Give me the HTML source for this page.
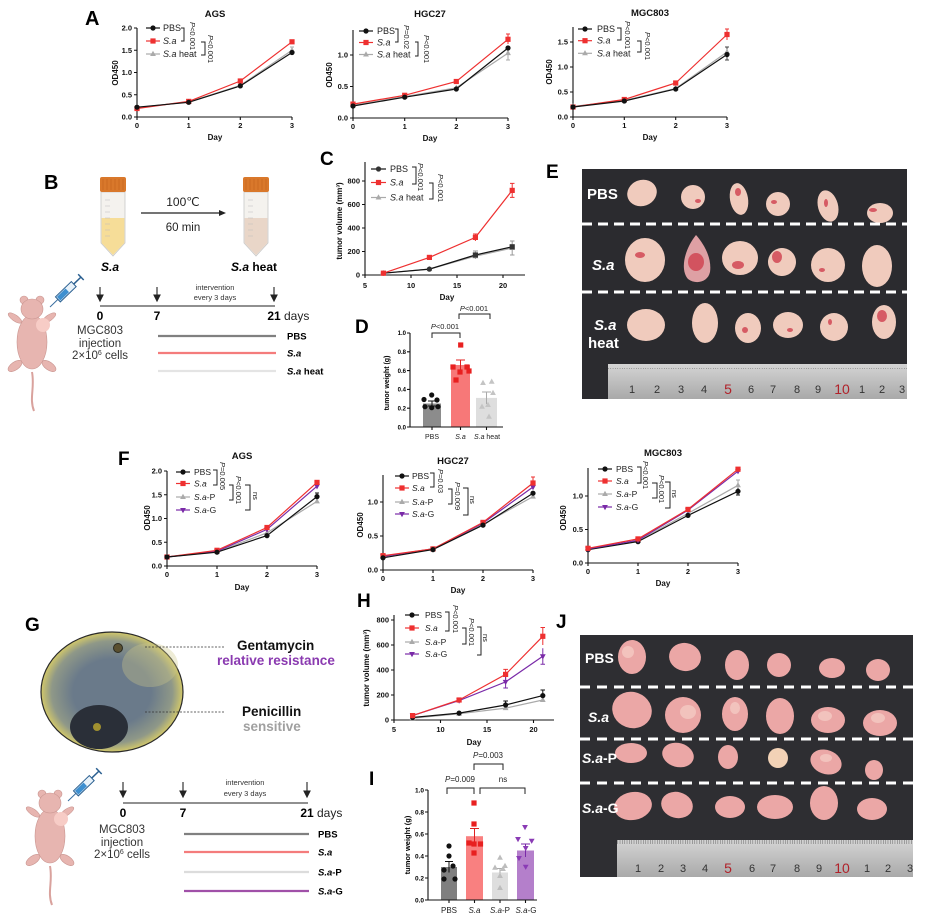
<!DOCTYPE html>
<html><head><meta charset="utf-8"><style>
html,body{margin:0;padding:0;background:#fff;}
svg{display:block;}
text{font-family:"Liberation Sans",Arial,sans-serif;}
.t{font-size:7.5px;font-weight:bold;fill:#111;}
.xl{font-size:8px;font-weight:bold;fill:#111;}
.lg{font-size:9px;fill:#222;}
.lg2{font-size:8.5px;fill:#222;}
.pv{font-size:7.5px;fill:#222;}
.ttl{font-size:9.5px;font-weight:bold;fill:#111;}
.ax{fill:none;stroke:#111;stroke-width:1.1;}
.br{fill:none;stroke:#222;stroke-width:1;}
.pl{font-size:20px;font-weight:bold;fill:#000;}
.s0{fill:none;stroke:#111;stroke-width:1.2;}
.s1{fill:none;stroke:#ee3030;stroke-width:1.2;}
.s2{fill:none;stroke:#aaaaaa;stroke-width:1.2;}
.s3{fill:none;stroke:#7a2aa8;stroke-width:1.2;}
.ph{font-size:15px;font-weight:bold;fill:#fff;}
.rn{font-size:11px;fill:#333;}
.rr{font-size:14px;fill:#b0222a;}
</style></head><body>
<svg width="926" height="920" viewBox="0 0 926 920" xmlns="http://www.w3.org/2000/svg">
<defs>
<circle id="mc" r="2.6"/>
<rect id="ms" x="-2.6" y="-2.6" width="5.2" height="5.2"/>
<path id="mt" d="M0,-3.2L2.9,2L-2.9,2Z"/>
<path id="mv" d="M0,3.2L2.9,-2L-2.9,-2Z"/>
<pattern id="mm" width="2.33" height="8" patternUnits="userSpaceOnUse"><rect width="0.5" height="4" fill="#666"/></pattern>
<linearGradient id="rul" x1="0" y1="0" x2="0" y2="1"><stop offset="0" stop-color="#d4d4d4"/><stop offset="1" stop-color="#a9a9a9"/></linearGradient>
<radialGradient id="pd" cx="0.5" cy="0.5" r="0.5"><stop offset="0.55" stop-color="#6a7a8a"/><stop offset="0.85" stop-color="#8f9888"/><stop offset="1" stop-color="#d2c86a"/></radialGradient>
<g id="mouse">
<path d="M32,372 C35,388 29,398 34,411" fill="none" stroke="#d9a29d" stroke-width="2"/>
<g fill="#e7b5b0" stroke="#c99590" stroke-width="0.6">
<ellipse cx="15" cy="366" rx="8" ry="4" transform="rotate(-35 15 366)"/>
<ellipse cx="49" cy="366" rx="8" ry="4" transform="rotate(35 49 366)"/>
<ellipse cx="15" cy="318" rx="8" ry="3" transform="rotate(35 15 318)"/>
<ellipse cx="49" cy="318" rx="8" ry="3" transform="rotate(-35 49 318)"/>
<ellipse cx="32" cy="342" rx="15" ry="27"/>
<circle cx="24" cy="300" r="4"/><circle cx="40" cy="300" r="4"/>
<ellipse cx="32" cy="309" rx="11" ry="10"/>
</g>
<circle cx="43" cy="325" r="7" fill="#f7ccc6"/>
<g transform="translate(50,307) rotate(-44)">
<line x1="0" y1="0" x2="11" y2="0" stroke="#3a6fa0" stroke-width="1"/>
<rect x="11" y="-3.5" width="22" height="7" fill="#e8f2fa" stroke="#2a5f90" stroke-width="1"/>
<rect x="12" y="-2.5" width="12" height="5" fill="#3d8fd0"/>
<line x1="33" y1="0" x2="43" y2="0" stroke="#2a5f90" stroke-width="1.5"/>
<line x1="43" y1="-4" x2="43" y2="4" stroke="#2a5f90" stroke-width="1.5"/>
</g>
</g>
</defs>

<!-- ================= A ================= -->
<text class="pl" x="85" y="25">A</text>
<text class="ttl" x="215" y="17" text-anchor="middle">AGS</text>
<path class="ax" d="M137,28V117H292M134,28H137M134,50.25H137M134,72.5H137M134,94.75H137M134,117H137M137,117V120M188.7,117V120M240.3,117V120M292,117V120"/>
<g class="t" text-anchor="end"><text x="132" y="30.5">2.0</text><text x="132" y="52.8">1.5</text><text x="132" y="75">1.0</text><text x="132" y="97.3">0.5</text><text x="132" y="119.5">0.0</text></g>
<g class="t" text-anchor="middle"><text x="137" y="128">0</text><text x="188.7" y="128">1</text><text x="240.3" y="128">2</text><text x="292" y="128">3</text></g>
<text class="xl" x="215" y="140" text-anchor="middle">Day</text>
<text class="xl" transform="translate(118,73) rotate(-90)" text-anchor="middle">OD450</text>
<polyline class="s2" points="137,107.7 188.7,101.9 240.3,85.4 292,50.3"/>
<polyline class="s1" points="137,108.5 188.7,101.4 240.3,81 292,41.8"/>
<polyline class="s0" points="137,107.2 188.7,102.3 240.3,85.9 292,52.5"/>
<path d="M292,47V54M290,47H294" stroke="#aaa" fill="none"/>
<g fill="#aaa"><use href="#mt" x="137" y="107.7"/><use href="#mt" x="188.7" y="101.9"/><use href="#mt" x="240.3" y="85.4"/><use href="#mt" x="292" y="50.3"/></g>
<g fill="#ee3030"><use href="#ms" x="137" y="108.5"/><use href="#ms" x="188.7" y="101.4"/><use href="#ms" x="240.3" y="81"/><use href="#ms" x="292" y="41.8"/></g>
<g fill="#111"><use href="#mc" x="137" y="107.2"/><use href="#mc" x="188.7" y="102.3"/><use href="#mc" x="240.3" y="85.9"/><use href="#mc" x="292" y="52.5"/></g>
<line x1="146" y1="28" x2="160" y2="28" class="s0"/><use href="#mc" x="153" y="28" fill="#111"/>
<line x1="146" y1="41" x2="160" y2="41" class="s1"/><use href="#ms" x="153" y="41" fill="#ee3030"/>
<line x1="146" y1="54" x2="160" y2="54" class="s2"/><use href="#mt" x="153" y="54" fill="#aaa"/>
<text class="lg" x="163" y="31">PBS</text><text class="lg" x="163" y="44" font-style="italic">S.a</text><text class="lg" x="163" y="57"><tspan font-style="italic">S.a</tspan> heat</text>
<path class="br" d="M181,28H184V41H181M201,42H205V55H201"/>
<text class="pv" transform="translate(190,22) rotate(90)"><tspan font-style="italic">P</tspan>&lt;0.001</text>
<text class="pv" transform="translate(208,35) rotate(90)"><tspan font-style="italic">P</tspan>&lt;0.001</text>

<!-- HGC27 -->
<text class="ttl" x="430" y="17" text-anchor="middle">HGC27</text>
<path class="ax" d="M353,30V118H508M350,55H353M350,86.5H353M350,118H353M353,118V121M404.7,118V121M456.3,118V121M508,118V121"/>
<g class="t" text-anchor="end"><text x="348" y="57.5">1.0</text><text x="348" y="89">0.5</text><text x="348" y="120.5">0.0</text></g>
<g class="t" text-anchor="middle"><text x="353" y="129">0</text><text x="404.7" y="129">1</text><text x="456.3" y="129">2</text><text x="508" y="129">3</text></g>
<text class="xl" x="430" y="141" text-anchor="middle">Day</text>
<text class="xl" transform="translate(332,75) rotate(-90)" text-anchor="middle">OD450</text>
<polyline class="s2" points="353,105.4 404.7,96.6 456.3,87.8 508,53.1"/>
<polyline class="s1" points="353,104.1 404.7,95.3 456.3,81.5 508,39.3"/>
<polyline class="s0" points="353,106 404.7,97.2 456.3,89 508,48"/>
<path d="M508,47V60M506,47H510M506,60H510" stroke="#aaa" fill="none"/>
<path d="M508,34V44M506,34H510" stroke="#ee3030" fill="none"/>
<g fill="#aaa"><use href="#mt" x="353" y="105.4"/><use href="#mt" x="404.7" y="96.6"/><use href="#mt" x="456.3" y="87.8"/><use href="#mt" x="508" y="53.1"/></g>
<g fill="#ee3030"><use href="#ms" x="353" y="104.1"/><use href="#ms" x="404.7" y="95.3"/><use href="#ms" x="456.3" y="81.5"/><use href="#ms" x="508" y="39.3"/></g>
<g fill="#111"><use href="#mc" x="353" y="106"/><use href="#mc" x="404.7" y="97.2"/><use href="#mc" x="456.3" y="89"/><use href="#mc" x="508" y="48"/></g>
<line x1="359" y1="31" x2="373" y2="31" class="s0"/><use href="#mc" x="366" y="31" fill="#111"/>
<line x1="359" y1="42.5" x2="373" y2="42.5" class="s1"/><use href="#ms" x="366" y="42.5" fill="#ee3030"/>
<line x1="359" y1="54.5" x2="373" y2="54.5" class="s2"/><use href="#mt" x="366" y="54.5" fill="#aaa"/>
<text class="lg" x="377" y="34">PBS</text><text class="lg" x="377" y="45.5" font-style="italic">S.a</text><text class="lg" x="377" y="57.5"><tspan font-style="italic">S.a</tspan> heat</text>
<path class="br" d="M395,29H398V42H395M415,42H418V56H415"/>
<text class="pv" transform="translate(404,25) rotate(90)"><tspan font-style="italic">P</tspan>=0.02</text>
<text class="pv" transform="translate(424,35) rotate(90)"><tspan font-style="italic">P</tspan>&lt;0.001</text>

<!-- MGC803 -->
<text class="ttl" x="650" y="16" text-anchor="middle">MGC803</text>
<path class="ax" d="M573,27V117H727M570,42H573M570,67H573M570,92H573M570,117H573M573,117V120M624.3,117V120M675.7,117V120M727,117V120"/>
<g class="t" text-anchor="end"><text x="568" y="44.5">1.5</text><text x="568" y="69.5">1.0</text><text x="568" y="94.5">0.5</text><text x="568" y="119.5">0.0</text></g>
<g class="t" text-anchor="middle"><text x="573" y="128">0</text><text x="624.3" y="128">1</text><text x="675.7" y="128">2</text><text x="727" y="128">3</text></g>
<text class="xl" x="650" y="140" text-anchor="middle">Day</text>
<text class="xl" transform="translate(552,72) rotate(-90)" text-anchor="middle">OD450</text>
<polyline class="s2" points="573,106.5 624.3,100.5 675.7,88.5 727,52"/>
<polyline class="s1" points="573,107 624.3,99.5 675.7,83 727,34.5"/>
<polyline class="s0" points="573,107 624.3,101 675.7,89 727,54.5"/>
<path d="M727,29V40M725,29H729" stroke="#ee3030" fill="none"/>
<path d="M727,47V58M725,47H729M727,50V60M725,60H729" stroke="#444" fill="none"/>
<g fill="#aaa"><use href="#mt" x="573" y="106.5"/><use href="#mt" x="624.3" y="100.5"/><use href="#mt" x="675.7" y="88.5"/><use href="#mt" x="727" y="52"/></g>
<g fill="#ee3030"><use href="#ms" x="573" y="107"/><use href="#ms" x="624.3" y="99.5"/><use href="#ms" x="675.7" y="83"/><use href="#ms" x="727" y="34.5"/></g>
<g fill="#111"><use href="#mc" x="573" y="107"/><use href="#mc" x="624.3" y="101"/><use href="#mc" x="675.7" y="89"/><use href="#mc" x="727" y="54.5"/></g>
<line x1="578" y1="29" x2="592" y2="29" class="s0"/><use href="#mc" x="585" y="29" fill="#111"/>
<line x1="578" y1="40.7" x2="592" y2="40.7" class="s1"/><use href="#ms" x="585" y="40.7" fill="#ee3030"/>
<line x1="578" y1="53.3" x2="592" y2="53.3" class="s2"/><use href="#mt" x="585" y="53.3" fill="#aaa"/>
<text class="lg" x="597" y="32">PBS</text><text class="lg" x="597" y="43.7" font-style="italic">S.a</text><text class="lg" x="597" y="56.3"><tspan font-style="italic">S.a</tspan> heat</text>
<path class="br" d="M617,28H621V40H617M637,41H641V52H637"/>
<text class="pv" transform="translate(625,21) rotate(90)"><tspan font-style="italic">P</tspan>&lt;0.001</text>
<text class="pv" transform="translate(645,32) rotate(90)"><tspan font-style="italic">P</tspan>&lt;0.001</text>

<!-- ================= B ================= -->
<text class="pl" x="44" y="189">B</text>
<path d="M101,192H125V243L113,256L101,243Z" fill="#f4f2ee" stroke="#c8c8c8" stroke-width="0.8"/>
<path d="M101.6,218H124.4V243L113,255L101.6,243Z" fill="#f6dd98"/>
<path d="M105,200H110M105,206H110M105,212H110M105,218H110M105,224H110M105,230H110M105,236H110" stroke="#bbb" stroke-width="0.6"/>
<rect x="100" y="177" width="26" height="15" rx="2" fill="#d9782b"/>
<path d="M103,179V190M107,179V190M111,179V190M115,179V190M119,179V190M123,179V190" stroke="#c2621c" stroke-width="0.6"/>
<path d="M244,192H268V243L256,256L244,243Z" fill="#f4f2ee" stroke="#c8c8c8" stroke-width="0.8"/>
<path d="M244.6,218H267.4V243L256,255L244.6,243Z" fill="#e9d6c8"/>
<path d="M248,200H253M248,206H253M248,212H253M248,218H253M248,224H253M248,230H253M248,236H253" stroke="#bbb" stroke-width="0.6"/>
<rect x="243" y="177" width="26" height="15" rx="2" fill="#d9782b"/>
<path d="M246,179V190M250,179V190M254,179V190M258,179V190M262,179V190M266,179V190" stroke="#c2621c" stroke-width="0.6"/>
<line x1="141" y1="213" x2="221" y2="213" stroke="#222" stroke-width="1.2"/><path d="M226,213L219,210V216Z" fill="#222"/>
<text x="183" y="206" font-size="12" text-anchor="middle" fill="#222">100℃</text>
<text x="183" y="231" font-size="11.5" text-anchor="middle" fill="#222">60 min</text>
<text x="110" y="271" font-size="12" font-weight="bold" font-style="italic" text-anchor="middle">S.a</text>
<text x="254" y="271" font-size="12" font-weight="bold" text-anchor="middle"><tspan font-style="italic">S.a</tspan> heat</text>
<use href="#mouse"/>
<g stroke="#222" stroke-width="1.1" fill="#222">
<line x1="100" y1="287" x2="100" y2="297"/><path d="M100,301L97,295H103Z"/>
<line x1="157" y1="287" x2="157" y2="297"/><path d="M157,301L154,295H160Z"/>
<line x1="274" y1="287" x2="274" y2="297"/><path d="M274,301L271,295H277Z"/>
<line x1="100" y1="306" x2="275" y2="306"/>
</g>
<text x="215" y="290" font-size="7.5" text-anchor="middle" fill="#333">intervention</text>
<text x="215" y="300" font-size="7.5" text-anchor="middle" fill="#333">every 3 days</text>
<g font-size="12" font-weight="bold" text-anchor="middle"><text x="100" y="320">0</text><text x="157" y="320">7</text><text x="274" y="320">21</text></g>
<text x="284" y="320" font-size="12" fill="#222">days</text>
<g font-size="11.5" text-anchor="middle" fill="#333"><text x="100" y="334">MGC803</text><text x="100" y="347">injection</text><text x="100" y="359">2×10<tspan font-size="7" dy="-4">6</tspan><tspan dy="4"> cells</tspan></text></g>
<line x1="158" y1="336" x2="276" y2="336" stroke="#808080" stroke-width="2.2"/>
<line x1="158" y1="353" x2="276" y2="353" stroke="#f47c7c" stroke-width="2.2"/>
<line x1="158" y1="371" x2="276" y2="371" stroke="#e4e4e4" stroke-width="2.2"/>
<g font-size="9.5" font-weight="bold"><text x="287" y="339.5">PBS</text><text x="287" y="356.5" font-style="italic">S.a</text><text x="287" y="374.5"><tspan font-style="italic">S.a</tspan> heat</text></g>

<!-- ================= C ================= -->
<text class="pl" x="320" y="165" style="font-size:19px">C</text>
<path class="ax" d="M365,162V275H525M362,181H365M362,204.5H365M362,228H365M362,251.5H365M362,275H365M365,275V278M411,275V278M457,275V278M503,275V278"/>
<g class="t" text-anchor="end"><text x="360" y="183.5">800</text><text x="360" y="207">600</text><text x="360" y="230.5">400</text><text x="360" y="254">200</text><text x="360" y="277.5">0</text></g>
<g class="t" text-anchor="middle"><text x="365" y="288">5</text><text x="411" y="288">10</text><text x="457" y="288">15</text><text x="503" y="288">20</text></g>
<text class="xl" x="447" y="300" text-anchor="middle">Day</text>
<text class="xl" transform="translate(342,221) rotate(-90)" text-anchor="middle">tumor volume (mm³)</text>
<polyline class="s2" points="383.4,273.2 429.4,269.1 475.4,256.2 512.2,248"/>
<polyline class="s0" points="383.4,273.2 429.4,269.1 475.4,255 512.2,246.8"/>
<polyline class="s1" points="383.4,273.2 429.4,257.4 475.4,237.4 512.2,190.4"/>
<path d="M512.2,183.4V197.4M510,183.4H514.5M510,197.4H514.5M475.4,234V241M473,234H478" stroke="#ee3030" fill="none"/>
<path d="M512.2,241V255M510,241H514.5M510,255H514.5M475.4,251V259M473,251H478" stroke="#999" fill="none"/>
<g fill="#aaa"><use href="#mt" x="383.4" y="273.2"/><use href="#mt" x="429.4" y="269.1"/><use href="#mt" x="475.4" y="256.2"/><use href="#mt" x="512.2" y="248"/></g>
<g fill="#333"><use href="#mc" x="383.4" y="273.2"/><use href="#mc" x="429.4" y="269.1"/><use href="#ms" x="475.4" y="255"/><use href="#ms" x="512.2" y="246.8"/></g>
<g fill="#ee3030"><use href="#ms" x="383.4" y="273.2"/><use href="#ms" x="429.4" y="257.4"/><use href="#ms" x="475.4" y="237.4"/><use href="#ms" x="512.2" y="190.4"/></g>
<line x1="371" y1="169" x2="386" y2="169" class="s0"/><use href="#mc" x="378.5" y="169" fill="#333"/>
<line x1="371" y1="182.5" x2="386" y2="182.5" class="s1"/><use href="#ms" x="378.5" y="182.5" fill="#ee3030"/>
<line x1="371" y1="197.5" x2="386" y2="197.5" class="s2"/><use href="#mt" x="378.5" y="197.5" fill="#aaa"/>
<text class="lg" x="390" y="172">PBS</text><text class="lg" x="390" y="185.5" font-style="italic">S.a</text><text class="lg" x="390" y="200.5"><tspan font-style="italic">S.a</tspan> heat</text>
<path class="br" d="M412,167H416V184H412M429,183H433V199H429"/>
<text class="pv" transform="translate(418,163) rotate(90)"><tspan font-style="italic">P</tspan>&lt;0.001</text>
<text class="pv" transform="translate(438,174) rotate(90)"><tspan font-style="italic">P</tspan>&lt;0.001</text>

<!-- ================= D ================= -->
<text class="pl" x="355" y="333" style="font-size:19px">D</text>
<rect x="423" y="403.5" width="18" height="23.5" fill="#8c8c8c"/>
<rect x="451" y="365" width="19" height="62" fill="#f77878"/>
<rect x="476" y="397.9" width="21" height="29.1" fill="#dedede"/>
<path class="ax" d="M410,333V427H503M407,333H410M407,351.8H410M407,370.6H410M407,389.4H410M407,408.2H410M407,427H410M432,427V430M460.5,427V430M486.5,427V430"/>
<g style="font-size:6px;font-weight:bold" text-anchor="end"><text x="406" y="335">1.0</text><text x="406" y="354">0.8</text><text x="406" y="373">0.6</text><text x="406" y="391.5">0.4</text><text x="406" y="410.5">0.2</text><text x="406" y="429.3">0.0</text></g>
<text transform="translate(389,383) rotate(-90)" text-anchor="middle" style="font-size:7px;font-weight:bold">tumor weight (g)</text>
<g font-size="7" text-anchor="middle" fill="#222"><text x="432" y="439">PBS</text><text x="460.5" y="439" font-style="italic">S.a</text><text x="487" y="439"><tspan font-style="italic">S.a</tspan> heat</text></g>
<path d="M432,401V406M428,401H436M428,406H436" stroke="#111" fill="none"/>
<path d="M460.5,360V370M456,360H465" stroke="#e02020" fill="none"/>
<path d="M486.5,392V404M482,392H491" stroke="#aaa" fill="none"/>
<g fill="#111"><use href="#mc" x="431.7" y="395"/><use href="#mc" x="424" y="399.5"/><use href="#mc" x="437" y="400"/><use href="#mc" x="425" y="406.7"/><use href="#mc" x="431.7" y="407.7"/><use href="#mc" x="438" y="406.7"/></g>
<g fill="#e82020"><use href="#ms" x="460.7" y="345"/><use href="#ms" x="453" y="367"/><use href="#ms" x="467" y="367"/><use href="#ms" x="460" y="372"/><use href="#ms" x="469" y="371"/><use href="#ms" x="456" y="380"/></g>
<g fill="#c4c4c4"><use href="#mt" x="491.7" y="381.7"/><use href="#mt" x="483" y="383"/><use href="#mt" x="493" y="393"/><use href="#mt" x="488" y="405"/><use href="#mt" x="482" y="406.7"/><use href="#mt" x="489" y="416.7"/></g>
<g font-size="7.5" text-anchor="middle" fill="#222"><text x="445" y="329"><tspan font-style="italic">P</tspan>&lt;0.001</text><text x="474" y="311"><tspan font-style="italic">P</tspan>&lt;0.001</text></g>
<path class="br" d="M432,338V333H460V338M459,319V314H490V319"/>

<!-- ================= E ================= -->
<text class="pl" x="546" y="178" style="font-size:19px">E</text>
<rect x="582" y="169" width="325" height="230" fill="#2b2b2f"/>
<g fill="#f0cbbd">
<ellipse cx="642" cy="193" rx="15" ry="13" transform="rotate(-20 642 193)"/>
<ellipse cx="693" cy="197" rx="12" ry="12"/>
<ellipse cx="739" cy="199" rx="9" ry="16" transform="rotate(-10 739 199)"/>
<ellipse cx="778" cy="204" rx="12" ry="12"/>
<ellipse cx="828" cy="206" rx="10" ry="16" transform="rotate(-15 828 206)"/>
<ellipse cx="880" cy="213" rx="13" ry="10"/>
<ellipse cx="645" cy="260" rx="20" ry="22"/>
<path d="M696,235 C684,250 680,270 688,279 C696,285 708,282 710,272 C712,258 704,244 696,235Z" fill="#dea0a4"/>
<ellipse cx="740" cy="258" rx="18" ry="17"/>
<ellipse cx="782" cy="262" rx="14" ry="14" transform="rotate(30 782 262)"/>
<ellipse cx="828" cy="265" rx="17" ry="17"/>
<ellipse cx="877" cy="266" rx="15" ry="21"/>
<ellipse cx="646" cy="325" rx="19" ry="16"/>
<ellipse cx="705" cy="323" rx="13" ry="20"/>
<ellipse cx="748" cy="328" rx="13" ry="15"/>
<ellipse cx="788" cy="325" rx="15" ry="13"/>
<ellipse cx="834" cy="327" rx="14" ry="14"/>
<ellipse cx="884" cy="322" rx="12" ry="17"/>
</g>
<g fill="#d0404e" opacity="0.8">
<ellipse cx="698" cy="201" rx="3" ry="2"/><ellipse cx="738" cy="192" rx="3" ry="4"/><ellipse cx="774" cy="202" rx="3" ry="2"/><ellipse cx="826" cy="203" rx="2" ry="4"/><ellipse cx="873" cy="210" rx="4" ry="2"/>
<ellipse cx="640" cy="255" rx="5" ry="3"/><ellipse cx="696" cy="262" rx="8" ry="9"/><ellipse cx="738" cy="265" rx="6" ry="4"/><ellipse cx="777" cy="257" rx="5" ry="6"/><ellipse cx="822" cy="270" rx="3" ry="2"/>
<ellipse cx="745" cy="330" rx="3" ry="3"/><ellipse cx="790" cy="330" rx="3" ry="2"/><ellipse cx="882" cy="316" rx="5" ry="6"/><ellipse cx="830" cy="322" rx="2" ry="3"/>
</g>
<g stroke="#fff" stroke-width="3" stroke-dasharray="10 6"><line x1="582" y1="224" x2="907" y2="224"/><line x1="582" y1="292" x2="907" y2="292"/></g>
<text class="ph" x="587" y="199">PBS</text>
<text class="ph" x="592" y="270" font-style="italic">S.a</text>
<text class="ph" x="594" y="330" font-style="italic">S.a</text>
<text class="ph" x="588" y="348">heat</text>
<rect x="608" y="364" width="299" height="35" fill="url(#rul)"/>
<rect x="608" y="364" width="299" height="5" fill="url(#mm)"/>
<g class="rn" text-anchor="middle"><text x="632" y="393">1</text><text x="657" y="393">2</text><text x="681" y="393">3</text><text x="704" y="393">4</text><text x="751" y="393">6</text><text x="773" y="393">7</text><text x="797" y="393">8</text><text x="818" y="393">9</text><text x="862" y="393">1</text><text x="882" y="393">2</text><text x="902" y="393">3</text></g>
<g class="rr" text-anchor="middle"><text x="728" y="394">5</text><text x="842" y="394">10</text></g>

<!-- ================= F ================= -->
<text class="pl" x="118" y="465" style="font-size:19px">F</text>
<text class="ttl" x="242" y="459" text-anchor="middle">AGS</text>
<path class="ax" d="M167,471V566H317M164,471H167M164,494.75H167M164,518.5H167M164,542.25H167M164,566H167M167,566V569M217,566V569M267,566V569M317,566V569"/>
<g class="t" text-anchor="end"><text x="162" y="473.5">2.0</text><text x="162" y="497.3">1.5</text><text x="162" y="521">1.0</text><text x="162" y="544.8">0.5</text><text x="162" y="568.5">0.0</text></g>
<g class="t" text-anchor="middle"><text x="167" y="577">0</text><text x="217" y="577">1</text><text x="267" y="577">2</text><text x="317" y="577">3</text></g>
<text class="xl" x="242" y="590" text-anchor="middle">Day</text>
<text class="xl" transform="translate(150,518) rotate(-90)" text-anchor="middle">OD450</text>
<polyline class="s2" points="167,557 217,551.8 267,532.8 317,501.4"/>
<polyline class="s3" points="167,557 217,551.3 267,529.4 317,486.2"/>
<polyline class="s1" points="167,557 217,550.3 267,527.5 317,482.4"/>
<polyline class="s0" points="167,557 217,552.2 267,535.6 317,496.6"/>
<path d="M317,493V500M315,493H319" stroke="#111" fill="none"/>
<g fill="#aaa"><use href="#mt" x="167" y="557"/><use href="#mt" x="217" y="551.8"/><use href="#mt" x="267" y="532.8"/><use href="#mt" x="317" y="501.4"/></g>
<g fill="#7a2aa8"><use href="#mv" x="167" y="557"/><use href="#mv" x="217" y="551.3"/><use href="#mv" x="267" y="529.4"/><use href="#mv" x="317" y="486.2"/></g>
<g fill="#ee3030"><use href="#ms" x="167" y="557"/><use href="#ms" x="217" y="550.3"/><use href="#ms" x="267" y="527.5"/><use href="#ms" x="317" y="482.4"/></g>
<g fill="#111"><use href="#mc" x="167" y="557"/><use href="#mc" x="217" y="552.2"/><use href="#mc" x="267" y="535.6"/><use href="#mc" x="317" y="496.6"/></g>
<line x1="176" y1="472" x2="190" y2="472" class="s0"/><use href="#mc" x="183" y="472" fill="#111"/>
<line x1="176" y1="483.5" x2="190" y2="483.5" class="s1"/><use href="#ms" x="183" y="483.5" fill="#ee3030"/>
<line x1="176" y1="497" x2="190" y2="497" class="s2"/><use href="#mt" x="183" y="497" fill="#aaa"/>
<line x1="176" y1="510" x2="190" y2="510" class="s3"/><use href="#mv" x="183" y="510" fill="#7a2aa8"/>
<text class="lg2" x="194" y="475">PBS</text><text class="lg2" x="194" y="486.5" font-style="italic">S.a</text><text class="lg2" x="194" y="500"><tspan font-style="italic">S.a</tspan>-P</text><text class="lg2" x="194" y="513"><tspan font-style="italic">S.a</tspan>-G</text>
<path class="br" d="M213,470H217V485H213M229,485H233V500H229M245,485H250V510H245"/>
<text class="pv" transform="translate(220,462) rotate(90)"><tspan font-style="italic">P</tspan>=0.005</text>
<text class="pv" transform="translate(236,476) rotate(90)"><tspan font-style="italic">P</tspan>&lt;0.001</text>
<text class="pv" transform="translate(253,492) rotate(90)">ns</text>

<text class="ttl" x="453" y="464" text-anchor="middle">HGC27</text>
<path class="ax" d="M383,475V570H533M380,502H383M380,536H383M380,570H383M383,570V573M433,570V573M483,570V573M533,570V573"/>
<g class="t" text-anchor="end"><text x="378" y="504.5">1.0</text><text x="378" y="538.5">0.5</text><text x="378" y="572.5">0.0</text></g>
<g class="t" text-anchor="middle"><text x="383" y="581">0</text><text x="433" y="581">1</text><text x="483" y="581">2</text><text x="533" y="581">3</text></g>
<text class="xl" x="458" y="593" text-anchor="middle">Day</text>
<text class="xl" transform="translate(363,525) rotate(-90)" text-anchor="middle">OD450</text>
<polyline class="s2" points="383,556.4 433,548.9 483,524.4 533,496.6"/>
<polyline class="s3" points="383,556.4 433,548.9 483,523.1 533,487"/>
<polyline class="s1" points="383,555.7 433,548.9 483,522.4 533,483"/>
<polyline class="s0" points="383,557.8 433,549.6 483,525.1 533,493.2"/>
<path d="M533,477V489M531,477H535" stroke="#ee3030" fill="none"/>
<g fill="#aaa"><use href="#mt" x="383" y="556.4"/><use href="#mt" x="433" y="548.9"/><use href="#mt" x="483" y="524.4"/><use href="#mt" x="533" y="496.6"/></g>
<g fill="#7a2aa8"><use href="#mv" x="383" y="556.4"/><use href="#mv" x="433" y="548.9"/><use href="#mv" x="483" y="523.1"/><use href="#mv" x="533" y="487"/></g>
<g fill="#ee3030"><use href="#ms" x="383" y="555.7"/><use href="#ms" x="433" y="548.9"/><use href="#ms" x="483" y="522.4"/><use href="#ms" x="533" y="483"/></g>
<g fill="#111"><use href="#mc" x="383" y="557.8"/><use href="#mc" x="433" y="549.6"/><use href="#mc" x="483" y="525.1"/><use href="#mc" x="533" y="493.2"/></g>
<line x1="395" y1="476" x2="409" y2="476" class="s0"/><use href="#mc" x="402" y="476" fill="#111"/>
<line x1="395" y1="488" x2="409" y2="488" class="s1"/><use href="#ms" x="402" y="488" fill="#ee3030"/>
<line x1="395" y1="502" x2="409" y2="502" class="s2"/><use href="#mt" x="402" y="502" fill="#aaa"/>
<line x1="395" y1="514" x2="409" y2="514" class="s3"/><use href="#mv" x="402" y="514" fill="#7a2aa8"/>
<text class="lg2" x="412" y="479">PBS</text><text class="lg2" x="412" y="491" font-style="italic">S.a</text><text class="lg2" x="412" y="505"><tspan font-style="italic">S.a</tspan>-P</text><text class="lg2" x="412" y="517"><tspan font-style="italic">S.a</tspan>-G</text>
<path class="br" d="M430,473H434V487H430M448,489H452V504H448M463,488H468V515H463"/>
<text class="pv" transform="translate(438,469) rotate(90)"><tspan font-style="italic">P</tspan>=0.03</text>
<text class="pv" transform="translate(455,482) rotate(90)"><tspan font-style="italic">P</tspan>=0.009</text>
<text class="pv" transform="translate(470,496) rotate(90)">ns</text>

<text class="ttl" x="663" y="456" text-anchor="middle">MGC803</text>
<path class="ax" d="M588,468V563H738M585,496H588M585,529.5H588M585,563H588M588,563V566M638,563V566M688,563V566M738,563V566"/>
<g class="t" text-anchor="end"><text x="583" y="498.5">1.0</text><text x="583" y="532">0.5</text><text x="583" y="565.5">0.0</text></g>
<g class="t" text-anchor="middle"><text x="588" y="574">0</text><text x="638" y="574">1</text><text x="688" y="574">2</text><text x="738" y="574">3</text></g>
<text class="xl" x="663" y="586" text-anchor="middle">Day</text>
<text class="xl" transform="translate(566,518) rotate(-90)" text-anchor="middle">OD450</text>
<polyline class="s2" points="588,548.9 638,540.9 688,513.4 738,485.3"/>
<polyline class="s0" points="588,549.6 638,541.6 688,515.4 738,491.3"/>
<polyline class="s3" points="588,548.9 638,540.2 688,510.1 738,471.2"/>
<polyline class="s1" points="588,548.3 638,538.9 688,509.4 738,469.2"/>
<path d="M738,480V490M736,480H740" stroke="#aaa" fill="none"/>
<path d="M738,488V495M736,495H740" stroke="#111" fill="none"/>
<g fill="#aaa"><use href="#mt" x="588" y="548.9"/><use href="#mt" x="638" y="540.9"/><use href="#mt" x="688" y="513.4"/><use href="#mt" x="738" y="485.3"/></g>
<g fill="#111"><use href="#mc" x="588" y="549.6"/><use href="#mc" x="638" y="541.6"/><use href="#mc" x="688" y="515.4"/><use href="#mc" x="738" y="491.3"/></g>
<g fill="#7a2aa8"><use href="#mv" x="588" y="548.9"/><use href="#mv" x="638" y="540.2"/><use href="#mv" x="688" y="510.1"/><use href="#mv" x="738" y="471.2"/></g>
<g fill="#ee3030"><use href="#ms" x="588" y="548.3"/><use href="#ms" x="638" y="538.9"/><use href="#ms" x="688" y="509.4"/><use href="#ms" x="738" y="469.2"/></g>
<line x1="598" y1="469" x2="612" y2="469" class="s0"/><use href="#mc" x="605" y="469" fill="#111"/>
<line x1="598" y1="481" x2="612" y2="481" class="s1"/><use href="#ms" x="605" y="481" fill="#ee3030"/>
<line x1="598" y1="494" x2="612" y2="494" class="s2"/><use href="#mt" x="605" y="494" fill="#aaa"/>
<line x1="598" y1="507" x2="612" y2="507" class="s3"/><use href="#mv" x="605" y="507" fill="#7a2aa8"/>
<text class="lg2" x="616" y="472">PBS</text><text class="lg2" x="616" y="484" font-style="italic">S.a</text><text class="lg2" x="616" y="497"><tspan font-style="italic">S.a</tspan>-P</text><text class="lg2" x="616" y="510"><tspan font-style="italic">S.a</tspan>-G</text>
<path class="br" d="M637,467H641V483H637M652,483H657V498H652M665,482H670V508H665"/>
<text class="pv" transform="translate(643,461) rotate(90)"><tspan font-style="italic">P</tspan>&lt;0.001</text>
<text class="pv" transform="translate(659,475) rotate(90)"><tspan font-style="italic">P</tspan>&lt;0.001</text>
<text class="pv" transform="translate(672,490) rotate(90)">ns</text>

<!-- ================= G ================= -->
<text class="pl" x="25" y="631" style="font-size:19px">G</text>
<ellipse cx="112" cy="692" rx="71" ry="60" fill="url(#pd)" stroke="#2a2a2a" stroke-width="1.2"/>
<ellipse cx="150" cy="665" rx="28" ry="22" fill="#cfc88a" opacity="0.35"/>
<ellipse cx="99" cy="727" rx="29" ry="22" fill="#2a2f38"/>
<circle cx="118" cy="648" r="4.5" fill="#5a5030" stroke="#2a2a20" stroke-width="1"/>
<circle cx="97" cy="727" r="4" fill="#a09030"/>
<g stroke="#333" stroke-width="0.8" stroke-dasharray="2 1.5"><line x1="145" y1="647" x2="225" y2="647"/><line x1="145" y1="712" x2="225" y2="712"/></g>
<g font-size="13.5" font-weight="bold">
<text x="237" y="650" fill="#111">Gentamycin</text>
<text x="217" y="665" fill="#8a3ab0">relative resistance</text>
<text x="242" y="716" fill="#111">Penicillin</text>
<text x="243" y="731" fill="#a0a0a0">sensitive</text>
</g>
<use href="#mouse" x="18" y="494"/>
<g stroke="#222" stroke-width="1.1" fill="#222">
<line x1="123" y1="782" x2="123" y2="793"/><path d="M123,797L120,791H126Z"/>
<line x1="183" y1="782" x2="183" y2="793"/><path d="M183,797L180,791H186Z"/>
<line x1="307" y1="782" x2="307" y2="793"/><path d="M307,797L304,791H310Z"/>
<line x1="123" y1="803" x2="308" y2="803"/>
</g>
<text x="245" y="785" font-size="7.5" text-anchor="middle" fill="#333">intervention</text>
<text x="245" y="796" font-size="7.5" text-anchor="middle" fill="#333">every 3 days</text>
<g font-size="12" font-weight="bold" text-anchor="middle"><text x="123" y="817">0</text><text x="183" y="817">7</text><text x="307" y="817">21</text></g>
<text x="317" y="817" font-size="12" fill="#222">days</text>
<g font-size="11.5" text-anchor="middle" fill="#333"><text x="122" y="833">MGC803</text><text x="122" y="846">injection</text><text x="122" y="858">2×10<tspan font-size="7" dy="-4">6</tspan><tspan dy="4"> cells</tspan></text></g>
<line x1="184" y1="834" x2="309" y2="834" stroke="#808080" stroke-width="2.2"/>
<line x1="184" y1="852" x2="309" y2="852" stroke="#f47c7c" stroke-width="2.2"/>
<line x1="184" y1="872" x2="309" y2="872" stroke="#dcdcdc" stroke-width="2.2"/>
<line x1="184" y1="891" x2="309" y2="891" stroke="#a050a8" stroke-width="2.2"/>
<g font-size="9.5" font-weight="bold"><text x="318" y="837.5">PBS</text><text x="318" y="855.5" font-style="italic">S.a</text><text x="318" y="875.5"><tspan font-style="italic">S.a</tspan>-P</text><text x="318" y="894.5"><tspan font-style="italic">S.a</tspan>-G</text></g>

<!-- ================= H ================= -->
<text class="pl" x="357" y="607" style="font-size:19px">H</text>
<path class="ax" d="M394,615V720H554M391,620H394M391,645H394M391,670H394M391,695H394M391,720H394M394,720V723M440.5,720V723M487,720V723M533.5,720V723"/>
<g class="t" text-anchor="end"><text x="389" y="622.5">800</text><text x="389" y="647.5">600</text><text x="389" y="672.5">400</text><text x="389" y="697.5">200</text><text x="389" y="722.5">0</text></g>
<g class="t" text-anchor="middle"><text x="394" y="732">5</text><text x="440.5" y="732">10</text><text x="487" y="732">15</text><text x="533.5" y="732">20</text></g>
<text class="xl" x="474" y="745" text-anchor="middle">Day</text>
<text class="xl" transform="translate(369,668) rotate(-90)" text-anchor="middle">tumor volume (mm³)</text>
<polyline class="s2" points="412.6,718.1 459.1,713.8 505.6,708.1 542.8,700"/>
<polyline class="s0" points="412.6,717.5 459.1,713.1 505.6,705 542.8,695.6"/>
<polyline class="s3" points="412.6,715.6 459.1,700.6 505.6,681.9 542.8,656.3"/>
<polyline class="s1" points="412.6,715.6 459.1,700 505.6,674.4 542.8,636.3"/>
<path d="M542.8,627.5V645M540.5,627.5H545M505.6,669.4V679.4M503.3,669.4H508" stroke="#ee3030" fill="none"/>
<path d="M542.8,648.3V664.3M540.5,664.3H545M505.6,676V688M503.3,688H508" stroke="#7a2aa8" fill="none"/>
<path d="M542.8,690V701.2M540.5,690H545M505.6,701V709M503.3,701H508" stroke="#111" fill="none"/>
<g fill="#aaa"><use href="#mt" x="412.6" y="718.1"/><use href="#mt" x="459.1" y="713.8"/><use href="#mt" x="505.6" y="708.1"/><use href="#mt" x="542.8" y="700"/></g>
<g fill="#111"><use href="#mc" x="412.6" y="717.5"/><use href="#mc" x="459.1" y="713.1"/><use href="#mc" x="505.6" y="705"/><use href="#mc" x="542.8" y="695.6"/></g>
<g fill="#7a2aa8"><use href="#mv" x="412.6" y="715.6"/><use href="#mv" x="459.1" y="700.6"/><use href="#mv" x="505.6" y="681.9"/><use href="#mv" x="542.8" y="656.3"/></g>
<g fill="#ee3030"><use href="#ms" x="412.6" y="715.6"/><use href="#ms" x="459.1" y="700"/><use href="#ms" x="505.6" y="674.4"/><use href="#ms" x="542.8" y="636.3"/></g>
<line x1="405" y1="615" x2="419" y2="615" class="s0"/><use href="#mc" x="412" y="615" fill="#111"/>
<line x1="405" y1="628" x2="419" y2="628" class="s1"/><use href="#ms" x="412" y="628" fill="#ee3030"/>
<line x1="405" y1="642" x2="419" y2="642" class="s2"/><use href="#mt" x="412" y="642" fill="#aaa"/>
<line x1="405" y1="654" x2="419" y2="654" class="s3"/><use href="#mv" x="412" y="654" fill="#7a2aa8"/>
<text class="lg2" x="425" y="618">PBS</text><text class="lg2" x="425" y="631" font-style="italic">S.a</text><text class="lg2" x="425" y="645"><tspan font-style="italic">S.a</tspan>-P</text><text class="lg2" x="425" y="657"><tspan font-style="italic">S.a</tspan>-G</text>
<path class="br" d="M445,612H449V631H445M462,628H466V644H462M477,627H481V655H477"/>
<text class="pv" transform="translate(453,605) rotate(90)"><tspan font-style="italic">P</tspan>&lt;0.001</text>
<text class="pv" transform="translate(469,618) rotate(90)"><tspan font-style="italic">P</tspan>&lt;0.001</text>
<text class="pv" transform="translate(483,634) rotate(90)">ns</text>

<!-- ================= I ================= -->
<text class="pl" x="369" y="785" style="font-size:19px">I</text>
<rect x="441" y="867" width="16" height="33" fill="#7f7f7f"/>
<rect x="466" y="836.2" width="17" height="63.8" fill="#f98080"/>
<rect x="492" y="872.5" width="16" height="27.5" fill="#dedede"/>
<rect x="517" y="850.5" width="17" height="49.5" fill="#b47fcb"/>
<path class="ax" d="M428,790V900H537M425,790H428M425,812H428M425,834H428M425,856H428M425,878H428M425,900H428M449,900V903M474.5,900V903M500,900V903M525.5,900V903"/>
<g style="font-size:6.5px;font-weight:bold" text-anchor="end"><text x="424" y="792.5">1.0</text><text x="424" y="814.5">0.8</text><text x="424" y="836.5">0.6</text><text x="424" y="858.5">0.4</text><text x="424" y="880.5">0.2</text><text x="424" y="902.5">0.0</text></g>
<text transform="translate(410,845) rotate(-90)" text-anchor="middle" style="font-size:7.5px;font-weight:bold">tumor weight (g)</text>
<g font-size="8" text-anchor="middle" fill="#222"><text x="449" y="913">PBS</text><text x="474.5" y="913" font-style="italic">S.a</text><text x="500" y="913"><tspan font-style="italic">S.a</tspan>-P</text><text x="526" y="913"><tspan font-style="italic">S.a</tspan>-G</text></g>
<path d="M449,861.5V872.5M445,861.5H453" stroke="#111" fill="none"/>
<path d="M474.5,828.5V844M470,828.5H479" stroke="#e02020" fill="none"/>
<path d="M500,868.5V876.5M496,868.5H504" stroke="#aaa" fill="none"/>
<path d="M525.5,844V857M521,844H530" stroke="#7a2aa8" fill="none"/>
<g fill="#111"><use href="#mc" x="449" y="846"/><use href="#mc" x="449" y="856"/><use href="#mc" x="444" y="870"/><use href="#mc" x="444" y="879"/><use href="#mc" x="455" y="879"/><use href="#mc" x="453" y="866"/></g>
<g fill="#e82020"><use href="#ms" x="474" y="803"/><use href="#ms" x="474" y="824"/><use href="#ms" x="469" y="843"/><use href="#ms" x="474" y="844"/><use href="#ms" x="480.5" y="844"/><use href="#ms" x="474" y="853"/></g>
<g fill="#bdbdbd"><use href="#mt" x="500" y="857.7"/><use href="#mt" x="495" y="867.7"/><use href="#mt" x="503" y="869"/><use href="#mt" x="500" y="876"/><use href="#mt" x="500" y="888"/><use href="#mt" x="505" y="866"/></g>
<g fill="#8a3bb5"><use href="#mv" x="525" y="827"/><use href="#mv" x="518" y="839"/><use href="#mv" x="531.7" y="840.7"/><use href="#mv" x="525.7" y="848"/><use href="#mv" x="519" y="858"/><use href="#mv" x="525.7" y="866.7"/></g>
<g font-size="8" text-anchor="middle" fill="#222"><text x="460" y="782"><tspan font-style="italic">P</tspan>=0.009</text><text x="488" y="758"><tspan font-style="italic">P</tspan>=0.003</text><text x="503" y="782">ns</text></g>
<path class="br" d="M447,794V788H474V794M474,770V764H503V770M480,794V788H525V794"/>

<!-- ================= J ================= -->
<text class="pl" x="556" y="628" style="font-size:19px">J</text>
<rect x="580" y="635" width="333" height="242" fill="#2e2e32"/>
<g fill="#eba7a6">
<ellipse cx="632" cy="657" rx="14" ry="17"/>
<ellipse cx="685" cy="657" rx="16" ry="14" transform="rotate(10 685 657)"/>
<ellipse cx="737" cy="665" rx="12" ry="15"/>
<ellipse cx="779" cy="665" rx="12" ry="12"/>
<ellipse cx="832" cy="668" rx="13" ry="10"/>
<ellipse cx="878" cy="670" rx="12" ry="11"/>
<ellipse cx="632" cy="710" rx="20" ry="18" transform="rotate(20 632 710)"/>
<ellipse cx="683" cy="715" rx="18" ry="18"/>
<ellipse cx="735" cy="714" rx="13" ry="17"/>
<ellipse cx="780" cy="716" rx="14" ry="18"/>
<ellipse cx="828" cy="720" rx="17" ry="13"/>
<ellipse cx="880" cy="723" rx="17" ry="13"/>
<ellipse cx="631" cy="753" rx="16" ry="10"/>
<ellipse cx="678" cy="755" rx="16" ry="12" transform="rotate(15 678 755)"/>
<ellipse cx="728" cy="757" rx="10" ry="12"/>
<ellipse cx="778" cy="758" rx="10" ry="10" fill="#f2d2b6"/>
<ellipse cx="826" cy="762" rx="16" ry="12" transform="rotate(20 826 762)"/>
<ellipse cx="874" cy="770" rx="9" ry="10"/>
<ellipse cx="633" cy="806" rx="19" ry="14" transform="rotate(-10 633 806)"/>
<ellipse cx="677" cy="805" rx="16" ry="13" transform="rotate(15 677 805)"/>
<ellipse cx="730" cy="807" rx="15" ry="11"/>
<ellipse cx="775" cy="807" rx="18" ry="12"/>
<ellipse cx="824" cy="803" rx="14" ry="17"/>
<ellipse cx="872" cy="809" rx="15" ry="11"/>
</g>
<g fill="#f6cfc8" opacity="0.7">
<ellipse cx="628" cy="652" rx="6" ry="6"/><ellipse cx="688" cy="712" rx="8" ry="7"/><ellipse cx="825" cy="716" rx="7" ry="5"/><ellipse cx="878" cy="718" rx="7" ry="5"/><ellipse cx="826" cy="758" rx="6" ry="4"/><ellipse cx="735" cy="708" rx="5" ry="6"/>
</g>
<g stroke="#fff" stroke-width="3" stroke-dasharray="10 7"><line x1="580" y1="687" x2="913" y2="687"/><line x1="580" y1="739" x2="913" y2="739"/><line x1="580" y1="783" x2="913" y2="783"/></g>
<g font-size="14" font-weight="bold" fill="#fff">
<text x="585" y="663">PBS</text>
<text x="588" y="722" font-style="italic">S.a</text>
<text x="582" y="763"><tspan font-style="italic">S.a</tspan>-P</text>
<text x="582" y="813"><tspan font-style="italic">S.a</tspan>-G</text>
</g>
<rect x="617" y="840" width="296" height="37" fill="url(#rul)"/>
<rect x="617" y="840" width="296" height="5" fill="url(#mm)"/>
<g class="rn" text-anchor="middle"><text x="638" y="872">1</text><text x="661" y="872">2</text><text x="683" y="872">3</text><text x="705" y="872">4</text><text x="752" y="872">6</text><text x="773" y="872">7</text><text x="797" y="872">8</text><text x="819" y="872">9</text><text x="867" y="872">1</text><text x="888" y="872">2</text><text x="910" y="872">3</text></g>
<g class="rr" text-anchor="middle"><text x="728" y="873">5</text><text x="842" y="873">10</text></g>
</svg>
</body></html>
